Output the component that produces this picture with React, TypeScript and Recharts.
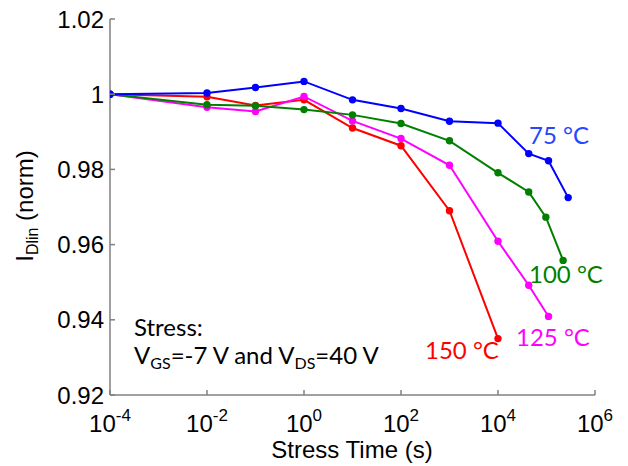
import { LineChart, Line, XAxis, YAxis } from "recharts";

// stress time (s) and normalised I_Dlin for each temperature
const t75 = [1e-4, 1e-2, 1e-1, 1, 10, 100, 1e3, 1e4, 4.3e4, 1.1e5, 2.8e5];
const v75 = [1, 1.0003, 1.0018, 1.0034, 0.9985, 0.9962, 0.9928, 0.9923, 0.9842, 0.9823, 0.9725];

const t100 = [1e-4, 1e-2, 1e-1, 1, 10, 100, 1e3, 1e4, 4.3e4, 9.7e4, 2.2e5];
const v100 = [1, 0.9972, 0.9969, 0.9959, 0.9945, 0.9922, 0.9876, 0.9791, 0.974, 0.9673, 0.9558];

const t125 = [1e-4, 1e-2, 1e-1, 1, 10, 100, 1e3, 1e4, 4.3e4, 1.1e5];
const v125 = [1, 0.9965, 0.9954, 0.9994, 0.9929, 0.9882, 0.9811, 0.9609, 0.9492, 0.9409];

const t150 = [1e-4, 1e-2, 1e-1, 1, 10, 100, 1e3, 1e4];
const v150 = [1, 0.9993, 0.997, 0.9985, 0.991, 0.9863, 0.969, 0.935];

const xTicks = [1e-4, 1e-2, 1, 1e2, 1e4, 1e6];
const xExponents = ["-4", "-2", "0", "2", "4", "6"];
const yTicks = [0.92, 0.94, 0.96, 0.98, 1, 1.02];

const zip = (t: number[], v: number[]) => t.map((x, i) => ({ t: x, v: v[i] }));

const series = [
  { name: "150", data: zip(t150, v150), color: "#ff0000" },
  { name: "125", data: zip(t125, v125), color: "#ff00ff" },
  { name: "100", data: zip(t100, v100), color: "#008000" },
  { name: "75", data: zip(t75, v75), color: "#0000ff" },
];

const AXIS = "#808080";
const ARIAL = "'Liberation Sans', Arial, sans-serif";
const CAL = "Lato, 'Open Sans', sans-serif";

function XTick(props: any) {
  const { x, y, payload, index } = props;
  const i = index ?? xTicks.indexOf(payload.value);
  return (
    <g>
      <line x1={x} y1={y} x2={x} y2={y - 5} stroke={AXIS} strokeWidth={1.5} />
      <text x={x} y={y + 37} textAnchor="middle" fontFamily={ARIAL} fontSize={24} fill="#000">
        <tspan>10</tspan>
        <tspan dy={-11} fontSize={17}>
          {xExponents[i]}
        </tspan>
      </text>
    </g>
  );
}

function YTick(props: any) {
  const { x, y, payload } = props;
  const v = payload.value;
  return (
    <g>
      <line x1={x} y1={y} x2={x + 5} y2={y} stroke={AXIS} strokeWidth={1.5} />
      <text x={x - 6} y={y + 8.5} textAnchor="end" fontFamily={ARIAL} fontSize={24} fill="#000">
        {Math.abs(v - 1) < 1e-9 ? "1" : v.toFixed(2)}
      </text>
    </g>
  );
}

export default function App() {
  // pull the chart over the body margin so it fills the whole 628x466 page
  return (
    <div style={{ margin: "-8px 0 0 -8px", width: 628, height: 466 }}>
      <LineChart
        width={628}
        height={466}
        margin={{ top: 19, right: 33, left: 0, bottom: 0 }}
        style={{ background: "#fff" }}
      >
        <XAxis
          dataKey="t"
          type="number"
          scale="log"
          domain={[1e-4, 1e6]}
          ticks={xTicks}
          allowDataOverflow
          height={71}
          tickSize={0}
          tickMargin={0}
          tickLine={false}
          axisLine={{ stroke: AXIS, strokeWidth: 1.5 }}
          tick={<XTick />}
        />
        <YAxis
          type="number"
          domain={[0.92, 1.02]}
          ticks={yTicks}
          allowDataOverflow
          width={110}
          tickSize={0}
          tickMargin={0}
          tickLine={false}
          axisLine={{ stroke: AXIS, strokeWidth: 1.5 }}
          tick={<YTick />}
        />
        {series.map((s) => (
          <Line
            key={s.name}
            data={s.data}
            dataKey="v"
            stroke={s.color}
            strokeWidth={2}
            dot={{ r: 3.7, fill: s.color, stroke: s.color, strokeWidth: 0 }}
            isAnimationActive={false}
          />
        ))}

        <text x={33} y={206} transform="rotate(-90 33 206)" textAnchor="middle" fontFamily={ARIAL} fontSize={24} fill="#000">
          I<tspan fontSize={16} dy={5}>Dlin</tspan>
          <tspan dy={-5}> (norm)</tspan>
        </text>
        <text x={352} y={458} textAnchor="middle" fontFamily={ARIAL} fontSize={24} fill="#000">
          Stress Time (s)
        </text>

        <text x={134} y={336} fontFamily={CAL} fontSize={24} fill="#000">
          Stress:
        </text>
        <text x={134} y={364} fontFamily={CAL} fontSize={24} fill="#000">
          V<tspan fontSize={16} dy={5}>GS</tspan>
          <tspan dy={-5}>=-7 V and V</tspan>
          <tspan fontSize={16} dy={5}>DS</tspan>
          <tspan dy={-5}>=40 V</tspan>
        </text>

        <text x={529} y={144} fontFamily={CAL} fontSize={24} fill="#2447ff">
          75 °C
        </text>
        <text x={529} y={283} fontFamily={CAL} fontSize={24} fill="#008000">
          100 °C
        </text>
        <text x={516} y={346} fontFamily={CAL} fontSize={24} fill="#ff00ff">
          125 °C
        </text>
        <text x={425} y={359} fontFamily={CAL} fontSize={24} fill="#ff0000">
          150 °C
        </text>
      </LineChart>
    </div>
  );
}
